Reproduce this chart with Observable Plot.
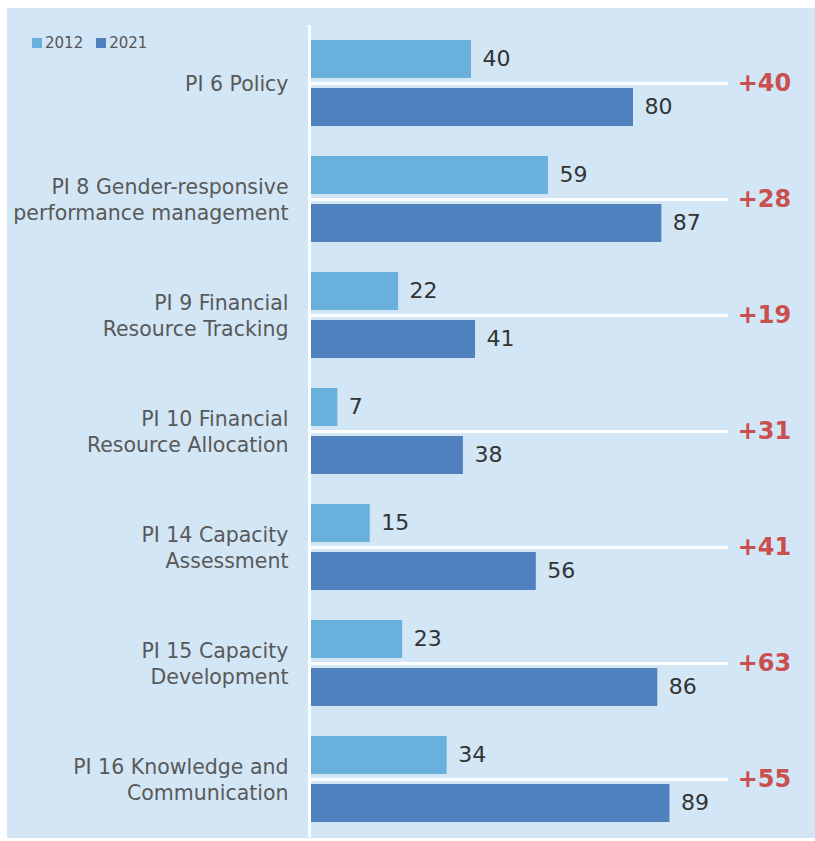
<!DOCTYPE html>
<html>
<head>
<meta charset="utf-8">
<script src="https://cdn.jsdelivr.net/npm/d3@7"></script>
<script src="https://cdn.jsdelivr.net/npm/@observablehq/plot@0.6"></script>
<style>
  html, body { margin: 0; padding: 0; background: #ffffff; }
  #panel { position: absolute; left: 7px; top: 8px; width: 808px; height: 830px; background: #d2e6f6; overflow: hidden; }
  #legend { position: absolute; left: 25px; top: 26px; font-family: "DejaVu Sans", sans-serif; font-size: 15px; color: #555; display: flex; align-items: center; gap: 13px; z-index: 2; }
  #legend span.item { display: flex; align-items: center; gap: 3px; }
  #legend i { display: inline-block; width: 10px; height: 10px; }
  #chart { position: absolute; left: 0; top: 0; }
</style>
</head>
<body>
<div id="panel">
  <div id="legend"></div>
  <div id="chart"></div>
</div>
<script>
const categories = [
  "PI 6 Policy",
  "PI 8 Gender-responsive\nperformance management",
  "PI 9 Financial\nResource Tracking",
  "PI 10 Financial\nResource Allocation",
  "PI 14 Capacity\nAssessment",
  "PI 15 Capacity\nDevelopment",
  "PI 16 Knowledge and\nCommunication"
];
const years = ["2012", "2021"];
const values2012 = [40, 59, 22, 7, 15, 23, 34];
const values2021 = [80, 87, 41, 38, 56, 86, 89];
const yearColors = ["#6ab0dc", "#4f81bf"];

const rows = categories.flatMap((c, i) => [
  {cat: c, year: years[0], value: values2012[i]},
  {cat: c, year: years[1], value: values2021[i]}
]);
const diffs = categories.map((c, i) => ({cat: c, change: values2021[i] - values2012[i]}));

const sepEnd = 103.5;
const font = "'DejaVu Sans', sans-serif";

const chart = Plot.plot({
  width: 808,
  height: 830,
  marginLeft: 302,
  marginRight: 101,
  marginTop: 32,
  marginBottom: 16,
  style: {background: "transparent", fontFamily: font, overflow: "visible"},
  x: {domain: [0, 100], axis: null},
  y: {domain: years, axis: null, paddingInner: 10 / 48, paddingOuter: 0},
  fy: {domain: categories, axis: null, paddingInner: 30 / 116, paddingOuter: 0},
  color: {domain: years, range: yearColors},
  marks: [
    Plot.ruleX([0], {stroke: "white", strokeWidth: 3, insetTop: -15, insetBottom: -15}),
    Plot.ruleY(diffs, {fy: "cat", y: () => years[1], dy: -24, x1: 0, x2: () => sepEnd, stroke: "white", strokeWidth: 3}),
    Plot.barX(rows, {fy: "cat", y: "year", x: "value", fill: "year", insetLeft: 2}),
    Plot.text(rows, {fy: "cat", y: "year", x: "value", text: d => String(d.value), textAnchor: "start", dx: 11, dy: -1, fontSize: 22, fill: "#333"}),
    Plot.text(categories, {fy: d => d, text: d => d, frameAnchor: "left", textAnchor: "end", dx: -21, dy: -1, lineHeight: 1.28, fontSize: 20.5, fill: "#595959"}),
    Plot.text(diffs, {fy: "cat", x: () => sepEnd, text: d => "+" + d.change, textAnchor: "start", dx: 9, fontSize: 24, fontWeight: "bold", fill: "#c9504e"})
  ]
});
document.getElementById("chart").appendChild(chart);

const legend = document.getElementById("legend");
years.forEach((y, i) => {
  const s = document.createElement("span");
  s.className = "item";
  s.innerHTML = `<i style="background:${yearColors[i]}"></i>${y}`;
  legend.appendChild(s);
});
</script>
</body>
</html>
